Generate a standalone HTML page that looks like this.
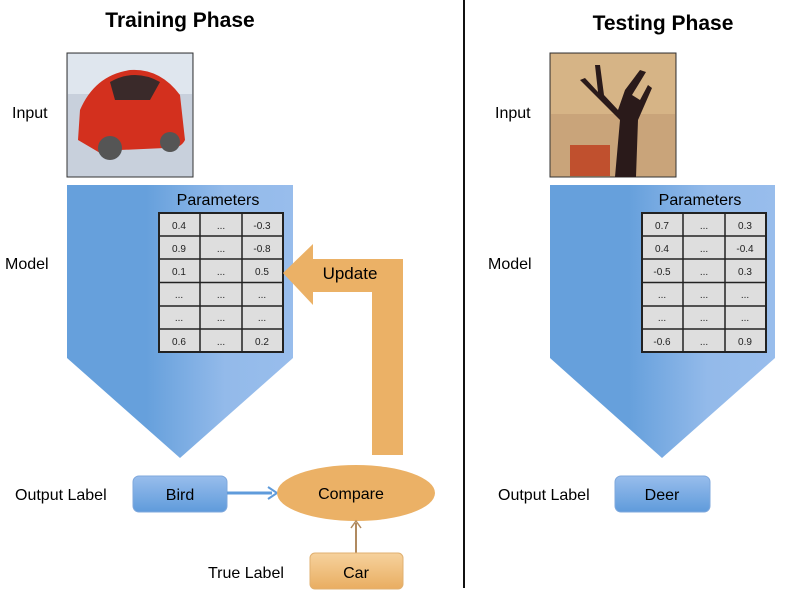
<!DOCTYPE html>
<html><head><meta charset="utf-8"><style>
body{margin:0;background:#fff}
svg{display:block}
text{font-family:"Liberation Sans",sans-serif}
</style></head><body>
<svg width="800" height="607" viewBox="0 0 800 607" xmlns="http://www.w3.org/2000/svg">
<defs>
<linearGradient id="pg" x1="0" x2="1" y1="0" y2="0">
<stop offset="0" stop-color="#66a0dc"/><stop offset="0.35" stop-color="#66a0dc"/><stop offset="0.7" stop-color="#93baea"/><stop offset="1" stop-color="#98bdec"/>
</linearGradient>
<linearGradient id="bg" x1="0" x2="0" y1="0" y2="1">
<stop offset="0" stop-color="#98bdec"/><stop offset="1" stop-color="#5f9bdb"/>
</linearGradient>
<linearGradient id="og" x1="0" x2="0" y1="0" y2="1">
<stop offset="0" stop-color="#f6d29d"/><stop offset="1" stop-color="#e9ad61"/>
</linearGradient>
<g id="tbl">
<rect x="0" y="0" width="124" height="139" fill="#dedede" stroke="#222" stroke-width="2"/>
<line x1="41" y1="0" x2="41" y2="139" stroke="#222" stroke-width="1.5"/>
<line x1="83" y1="0" x2="83" y2="139" stroke="#222" stroke-width="1.5"/>
<line x1="0" y1="23" x2="124" y2="23" stroke="#222" stroke-width="1.5"/>
<line x1="0" y1="46" x2="124" y2="46" stroke="#222" stroke-width="1.5"/>
<line x1="0" y1="69.5" x2="124" y2="69.5" stroke="#222" stroke-width="1.5"/>
<line x1="0" y1="93" x2="124" y2="93" stroke="#222" stroke-width="1.5"/>
<line x1="0" y1="116" x2="124" y2="116" stroke="#222" stroke-width="1.5"/>
</g>
</defs>

<!-- Training -->
<text x="180" y="27" font-size="21" font-weight="bold" text-anchor="middle">Training Phase</text>
<text x="12" y="118" font-size="16">Input</text>
<rect x="67" y="53" width="126" height="124" fill="#c8d0dc" stroke="#333"/>
<rect x="68" y="54" width="124" height="40" fill="#dfe6ee"/>
<path d="M80 110 Q95 75 130 70 Q160 68 180 95 L185 140 Q180 150 165 148 L120 150 Q110 160 95 150 L78 140 Z" fill="#d3301e"/>
<path d="M110 82 Q135 68 160 82 L150 100 L115 100 Z" fill="#3a2a2a"/>
<circle cx="110" cy="148" r="12" fill="#555"/>
<circle cx="170" cy="142" r="10" fill="#555"/>

<text x="5" y="269" font-size="16">Model</text>
<path d="M67 185 H293 V358 L180 458 L67 358 Z" fill="url(#pg)"/>
<text x="218" y="205" font-size="16" text-anchor="middle">Parameters</text>
<use href="#tbl" x="159" y="213"/>
<g font-size="10" text-anchor="middle" fill="#222">
<text x="179" y="229">0.4</text><text x="221" y="229">...</text><text x="262" y="229">-0.3</text>
<text x="179" y="252">0.9</text><text x="221" y="252">...</text><text x="262" y="252">-0.8</text>
<text x="179" y="275">0.1</text><text x="221" y="275">...</text><text x="262" y="275">0.5</text>
<text x="179" y="298">...</text><text x="221" y="298">...</text><text x="262" y="298">...</text>
<text x="179" y="321">...</text><text x="221" y="321">...</text><text x="262" y="321">...</text>
<text x="179" y="345">0.6</text><text x="221" y="345">...</text><text x="262" y="345">0.2</text>
</g>

<path d="M283 273 L313 244 V259 H403 V455 H372 V292 H313 V305 Z" fill="#ebb166"/>
<text x="350" y="279" font-size="17" text-anchor="middle">Update</text>

<text x="15" y="500" font-size="16">Output Label</text>
<rect x="133" y="476" width="94" height="36" rx="6" fill="url(#bg)" stroke="#7fa8dc"/>
<text x="180" y="500" font-size="16" text-anchor="middle">Bird</text>
<line x1="227" y1="493" x2="272" y2="493" stroke="#5f9bdb" stroke-width="3"/>
<path d="M268 487 L277 493 L268 499" fill="none" stroke="#5f9bdb" stroke-width="2"/>
<ellipse cx="356" cy="493" rx="79" ry="28" fill="#ebb166"/>
<text x="351" y="499" font-size="16" text-anchor="middle">Compare</text>
<line x1="356" y1="553" x2="356" y2="523" stroke="#b08a60" stroke-width="2"/>
<path d="M351 528 L356 521 L361 528" fill="none" stroke="#b08a60" stroke-width="1.5"/>
<text x="208" y="578" font-size="16">True Label</text>
<rect x="310" y="553" width="93" height="36" rx="5" fill="url(#og)" stroke="#e0b070"/>
<text x="356" y="578" font-size="16" text-anchor="middle">Car</text>

<line x1="464" y1="0" x2="464" y2="588" stroke="#111" stroke-width="2"/>

<!-- Testing -->
<text x="663" y="30" font-size="21" font-weight="bold" text-anchor="middle">Testing Phase</text>
<text x="495" y="118" font-size="16">Input</text>
<rect x="550" y="53" width="126" height="124" fill="#c9a47a" stroke="#333"/>
<rect x="551" y="54" width="124" height="60" fill="#d9b889" opacity="0.8"/>
<rect x="570" y="145" width="40" height="31" fill="#c0502e"/>
<path d="M615 177 L620 120 L590 90 L580 80 L585 78 L598 92 L595 65 L600 65 L604 95 L618 110 L625 90 L640 70 L646 72 L632 95 L640 100 L648 85 L652 88 L638 120 L636 177 Z" fill="#2a1a1a"/>

<text x="488" y="269" font-size="16">Model</text>
<path d="M550 185 H775 V358 L662 458 L550 358 Z" fill="url(#pg)"/>
<text x="700" y="205" font-size="16" text-anchor="middle">Parameters</text>
<use href="#tbl" x="642" y="213"/>
<g font-size="10" text-anchor="middle" fill="#222">
<text x="662" y="229">0.7</text><text x="704" y="229">...</text><text x="745" y="229">0.3</text>
<text x="662" y="252">0.4</text><text x="704" y="252">...</text><text x="745" y="252">-0.4</text>
<text x="662" y="275">-0.5</text><text x="704" y="275">...</text><text x="745" y="275">0.3</text>
<text x="662" y="298">...</text><text x="704" y="298">...</text><text x="745" y="298">...</text>
<text x="662" y="321">...</text><text x="704" y="321">...</text><text x="745" y="321">...</text>
<text x="662" y="345">-0.6</text><text x="704" y="345">...</text><text x="745" y="345">0.9</text>
</g>
<text x="498" y="500" font-size="16">Output Label</text>
<rect x="615" y="476" width="95" height="36" rx="6" fill="url(#bg)" stroke="#7fa8dc"/>
<text x="662" y="500" font-size="16" text-anchor="middle">Deer</text>
</svg>
</body></html>
